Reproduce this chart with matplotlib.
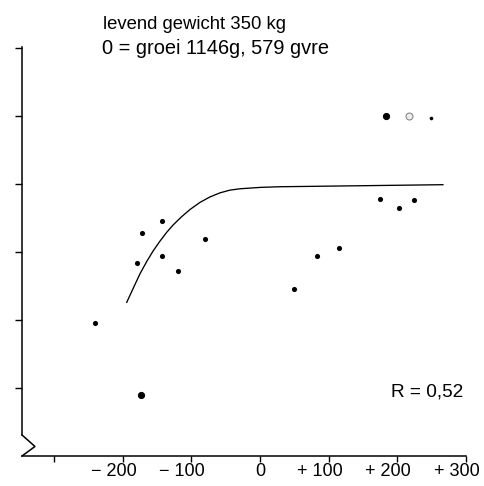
import matplotlib
matplotlib.use("Agg")
import matplotlib.pyplot as plt
import matplotlib.transforms as mtransforms

plt.rcParams['font.family'] = ['Liberation Sans', 'DejaVu Sans']

# ---- data ----
pts_x = [-240.6, -172.2, -142.2, -179.0, -142.2, -118.9, -80.5, 49.9, 83.4, 114.6, 175.1, 202.8, 223.7]
pts_y = [1.96, 3.28, 3.45, 2.84, 2.94, 2.72, 3.19, 2.46, 2.94, 3.06, 3.78, 3.64, 3.76]
big_x = [183.0, -173.2]
big_y = [5.00, 0.90]
small_x = [248.9]
small_y = [4.97]
smudge_x = [216.9]
smudge_y = [5.00]

curve_x = [-194.0, -184.4, -174.7, -164.9, -155.3, -145.6, -135.8, -126.2, -114.0,
           -101.9, -87.3, -72.8, -58.2, -43.7, -29.1, -14.6, 0.0, 29.1, 69.9, 266.4]
curve_y = [2.26, 2.47, 2.68, 2.86, 3.02, 3.16, 3.29, 3.40, 3.52,
           3.625, 3.73, 3.81, 3.87, 3.91, 3.93, 3.94, 3.95, 3.96, 3.965, 3.99]

xticks = [-300, -200, -100, 0, 100, 200, 300]
xticklabels = ['', '\u2212 200', '\u2212 100', '0', '+ 100', '+ 200', '+ 300']
yticks = [1, 2, 3, 4, 5, 6]

title1 = 'levend gewicht 350 kg'
title2_left = '0 = groei 1146'
title2_right = 'g, 579 gvre'
r_text = 'R = 0,52'

# ---- figure ----
W, H = 485, 486
fig = plt.figure(figsize=(W / 100, H / 100), dpi=100)
ax = fig.add_axes([22 / W, 30 / H, (466 - 22) / W, (456 - 47) / H])
ax.set_xlim(-346.5, 300)
ax.set_ylim(0, 6.015)

for s in ['top', 'right']:
    ax.spines[s].set_visible(False)
ax.spines['left'].set_bounds(0.309, 6.015)
ax.spines['left'].set_linewidth(1.1)
ax.spines['bottom'].set_linewidth(1.1)

# axis break zigzag on the y axis
ax.plot([-346.5, -327.6, -346.5], [0.309, 0.14, 0.0], color='black', lw=1.1,
        clip_on=False, solid_joinstyle='miter')

ax.set_yticks(yticks)
ax.set_yticklabels([])
ax.tick_params(axis='y', direction='out', length=5, width=1.0)

ax.set_xticks(xticks)
ax.set_xticklabels(xticklabels, fontsize=13)
ax.tick_params(axis='x', direction='out', length=4.5, width=1.0, pad=0.5)
for lab, t in zip(ax.get_xticklabels(), xticks):
    if t != 0:
        lab.set_transform(lab.get_transform() +
                          mtransforms.ScaledTranslation(-9 / 100, 0, fig.dpi_scale_trans))

# curve
ax.plot(curve_x, curve_y, color='black', lw=0.95, clip_on=False)

# points
ax.plot(pts_x, pts_y, 'o', color='black', ms=3.7, mew=0, clip_on=False)
ax.plot(big_x, big_y, 'o', color='black', ms=5.2, mew=0, clip_on=False)
ax.plot(small_x, small_y, 'o', color='black', ms=2.6, mew=0, clip_on=False)
ax.plot(smudge_x, smudge_y, 'o', mfc='#eeeeee', mec='#888888', ms=5.0, mew=0.8, clip_on=False)

# texts
fig.text(103.5 / W, 1 - 28.7 / H, title1, fontsize=13.3, ha='left', va='baseline')
fig.text(102 / W, 1 - 54 / H, title2_left, fontsize=14.4, ha='left', va='baseline')
fig.text(329 / W, 1 - 54 / H, title2_right, fontsize=14.4, ha='right', va='baseline')
fig.text(391 / W, 1 - 396.7 / H, r_text, fontsize=13.7, ha='left', va='baseline')

fig.savefig('out.png', dpi=100)
